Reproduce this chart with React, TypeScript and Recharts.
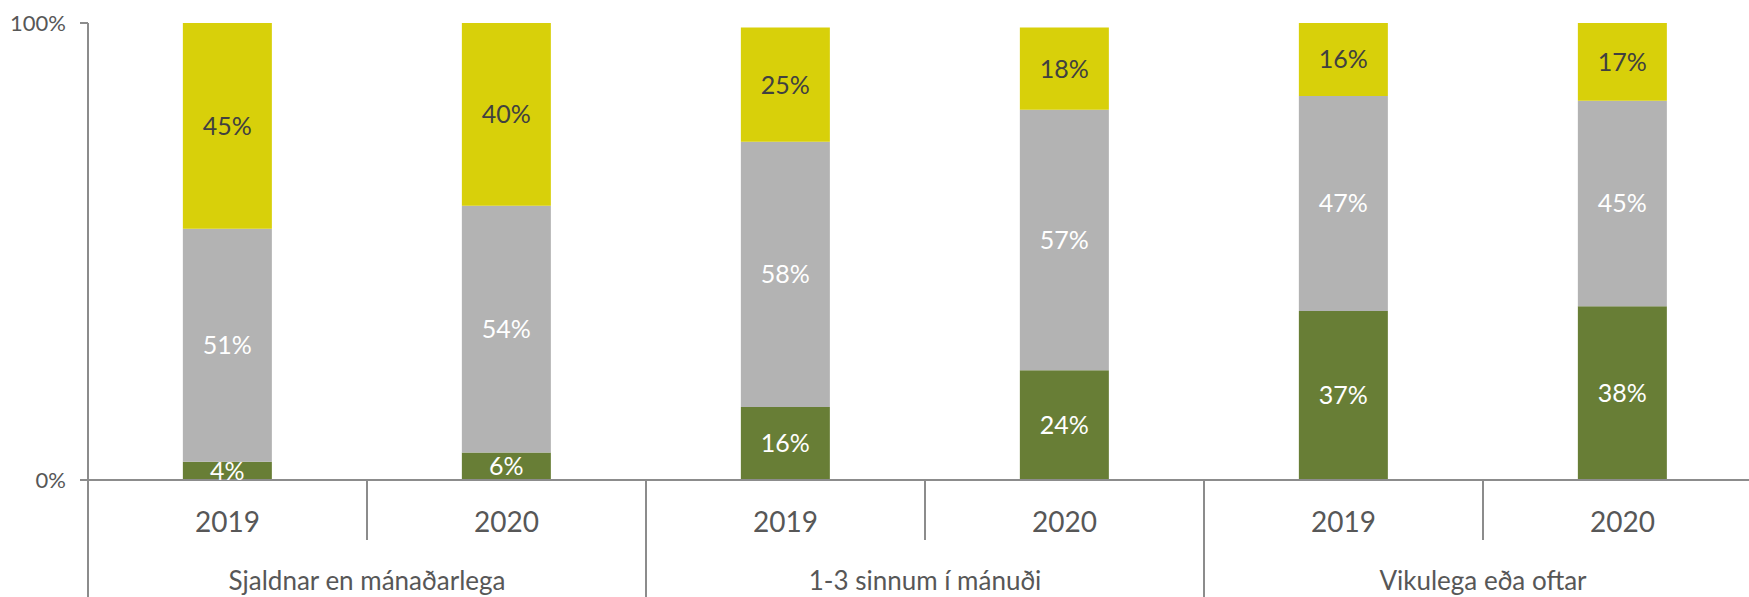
import React from "react";
import { BarChart, Bar, XAxis, YAxis, LabelList } from "recharts";

const years = ["2019", "2020", "2019", "2020", "2019", "2020"];
const groups = ["Sjaldnar en mánaðarlega", "1-3 sinnum í mánuði", "Vikulega eða oftar"];
const greenValues = [4, 6, 16, 24, 37, 38];
const grayValues = [51, 54, 58, 57, 47, 45];
const yellowValues = [45, 40, 25, 18, 16, 17];
const yTicks = [0, 100];

const data = years.map((year, i) => ({
  id: `${groups[Math.floor(i / 2)]}-${year}`,
  year,
  green: greenValues[i],
  gray: grayValues[i],
  yellow: yellowValues[i],
}));

const CHART_WIDTH = 1762;
const CHART_HEIGHT = 597;
const AXIS_WIDTH = 88;
const X_AXIS_HEIGHT = 117;
const PLOT_BOTTOM = CHART_HEIGHT - X_AXIS_HEIGHT;
const BAND = (CHART_WIDTH - AXIS_WIDTH) / years.length;
const FONT = "Lato, 'Open Sans', sans-serif";
const AXIS_COLOR = "#8c8c8c";
const TEXT_COLOR = "#575757";

function CategoryTick(props: any) {
  const { x, index } = props;
  const half = BAND / 2;
  const right = x + half;
  return (
    <g>
      {index === 0 && (
        <line x1={x - half} x2={x - half} y1={PLOT_BOTTOM} y2={CHART_HEIGHT} stroke={AXIS_COLOR} strokeWidth={2} />
      )}
      <text
        x={x}
        y={PLOT_BOTTOM + 41}
        textAnchor="middle"
        dominantBaseline="central"
        fontSize={28}
        fill={TEXT_COLOR}
        fontFamily={FONT}
      >
        {years[index]}
      </text>
      {index % 2 === 0 ? (
        <>
          <line x1={right} x2={right} y1={PLOT_BOTTOM} y2={PLOT_BOTTOM + 60} stroke={AXIS_COLOR} strokeWidth={2} />
          <text
            x={right}
            y={PLOT_BOTTOM + 100}
            textAnchor="middle"
            dominantBaseline="central"
            fontSize={26}
            fill={TEXT_COLOR}
            fontFamily={FONT}
          >
            {groups[index / 2]}
          </text>
        </>
      ) : (
        <line x1={right} x2={right} y1={PLOT_BOTTOM} y2={CHART_HEIGHT} stroke={AXIS_COLOR} strokeWidth={2} />
      )}
    </g>
  );
}

export default function App() {
  return (
    <div
      style={{
        position: "fixed",
        left: 0,
        top: 0,
        width: 1749,
        height: CHART_HEIGHT,
        overflow: "hidden",
        background: "#fff",
      }}
    >
      <BarChart
        width={CHART_WIDTH}
        height={CHART_HEIGHT}
        data={data}
        margin={{ top: 23, right: 0, left: 0, bottom: 0 }}
        barCategoryGap="34%"
      >
        <XAxis
          dataKey="id"
          height={X_AXIS_HEIGHT}
          axisLine={{ stroke: AXIS_COLOR, strokeWidth: 2 }}
          tickLine={false}
          interval={0}
          tick={<CategoryTick />}
        />
        <YAxis
          width={AXIS_WIDTH}
          domain={[0, 100]}
          ticks={yTicks}
          tickFormatter={(v) => `${v}%`}
          axisLine={{ stroke: AXIS_COLOR, strokeWidth: 2 }}
          tickLine={{ stroke: AXIS_COLOR, strokeWidth: 2 }}
          tickSize={8}
          tickMargin={14}
          tick={{ fontSize: 22, fill: TEXT_COLOR, fontFamily: FONT }}
        />
        <Bar dataKey="green" stackId="a" fill="#687E36" isAnimationActive={false}>
          <LabelList
            dataKey="green"
            position="center"
            formatter={(v: any) => `${v}%`}
            style={{ fontSize: 25, fill: "#ffffff", fontFamily: FONT }}
          />
        </Bar>
        <Bar dataKey="gray" stackId="a" fill="#B3B3B3" isAnimationActive={false}>
          <LabelList
            dataKey="gray"
            position="center"
            formatter={(v: any) => `${v}%`}
            style={{ fontSize: 25, fill: "#ffffff", fontFamily: FONT }}
          />
        </Bar>
        <Bar dataKey="yellow" stackId="a" fill="#D8D00A" isAnimationActive={false}>
          <LabelList
            dataKey="yellow"
            position="center"
            formatter={(v: any) => `${v}%`}
            style={{ fontSize: 25, fill: "#404040", fontFamily: FONT }}
          />
        </Bar>
      </BarChart>
    </div>
  );
}
